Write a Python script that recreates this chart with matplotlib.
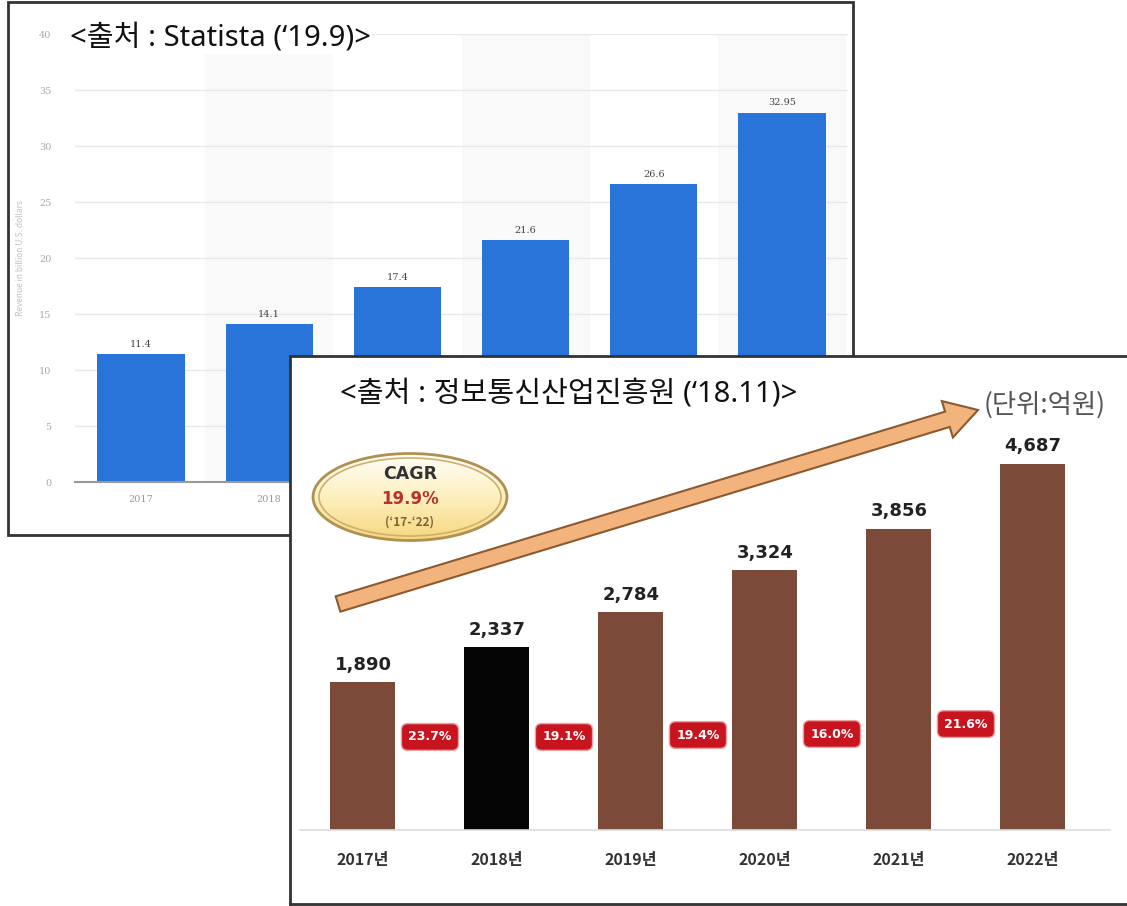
import numpy as np
import matplotlib
matplotlib.use("Agg")
import matplotlib.pyplot as plt
from matplotlib.patches import Rectangle, Ellipse, FancyArrow
from matplotlib.colors import LinearSegmentedColormap

############ data ##############
years1 = ["2017", "2018", "2019", "2020", "2021", "2022"]
revenue = [11.4, 14.1, 17.4, 21.6, 26.6, 32.95]
revenue_labels = ["11.4", "14.1", "17.4", "21.6", "26.6", "32.95"]
y1_ticks = [0, 5, 10, 15, 20, 25, 30, 35, 40]

years2 = ["2017년", "2018년", "2019년", "2020년", "2021년", "2022년"]
market = [1890, 2337, 2784, 3324, 3856, 4687]
growth = ["23.7%", "19.1%", "19.4%", "16.0%", "21.6%"]
cagr = "19.9%"

title1 = "<출처 : Statista (\u201819.9)>"
title2 = "<출처 : 정보통신산업진흥원 (\u201818.11)>"
unit = "(단위:억원)"

plt.rcParams["font.family"] = ["Noto Sans CJK KR", "DejaVu Sans"]
title_fonts = ["Noto Sans", "Noto Sans CJK KR"]

W, H = 1127, 906
fig = plt.figure(figsize=(W / 100, H / 100), dpi=100)


def px_axes(l, t, r, b, z):
    return fig.add_axes([l / W, 1 - b / H, (r - l) / W, (b - t) / H], zorder=z)


def overlay(z):
    ax = px_axes(0, 0, W, H, z)
    ax.set_xlim(0, W)
    ax.set_ylim(H, 0)
    ax.axis("off")
    return ax


############ Statista chart ##############
ax1 = px_axes(75, 34, 848, 482, 1)
x1 = np.arange(len(years1))
for i in x1[1::2]:
    ax1.axvspan(i - 0.5, i + 0.5, color="#f9f9f9", zorder=0, lw=0)
ax1.bar(x1, revenue, width=0.68, color="#2874d8", zorder=2)
for i, (v, s) in enumerate(zip(revenue, revenue_labels)):
    ax1.annotate(s, (i, v), xytext=(0, 4), textcoords="offset points",
                 ha="center", va="bottom", fontsize=7, color="#444444",
                 family="DejaVu Serif")
ax1.set_xlim(-0.515, 5.515)
ax1.set_ylim(0, 40)
ax1.set_yticks(y1_ticks)
ax1.set_xticks(x1, years1)
ax1.yaxis.grid(True, color="#e8e8e8", lw=1)
ax1.set_axisbelow(True)
for s in ["top", "right", "left"]:
    ax1.spines[s].set_visible(False)
ax1.spines["bottom"].set_color("#9a9a9a")
ax1.spines["bottom"].set_linewidth(1.5)
ax1.tick_params(axis="y", length=0, pad=17, labelsize=7, labelcolor="#aaaaaa")
ax1.tick_params(axis="x", length=0, pad=9, labelsize=7, labelcolor="#999999")
for t in ax1.get_xticklabels() + ax1.get_yticklabels():
    t.set_family("DejaVu Serif")
# 2019~2022 라벨은 아래 차트에 가려짐
for t in ax1.get_xticklabels()[2:]:
    t.set_visible(False)
ax1.set_ylabel("Revenue in billion U.S. dollars", fontsize=6, color="#c0c0c0")
ax1.yaxis.set_label_coords(-0.065, 0.5)

top1 = overlay(2)
top1.add_patch(Rectangle((8, 2), 845, 533, fill=False, ec="#333333", lw=2))
top1.text(70, 38, title1, ha="left", va="center", fontsize=21, color="#111111",
          family=title_fonts, bbox=dict(fc="white", ec="none", pad=1))

############ 정보통신산업진흥원 chart ##############
bg2 = px_axes(290, 356, 1140, 904, 3)
bg2.set_facecolor("white")
bg2.set_xticks([])
bg2.set_yticks([])
for s in bg2.spines.values():
    s.set_color("#333333")
    s.set_linewidth(2)

ax2 = px_axes(300, 361, 1110, 830, 4)
ax2.set_facecolor("none")
x2 = np.arange(len(years2))
colors = ["#050505" if y == "2018년" else "#7b4a39" for y in years2]
ax2.bar(x2, market, width=0.485, color=colors)
for i, v in enumerate(market):
    ax2.annotate(f"{v:,}", (i, v), xytext=(0, 6), textcoords="offset points",
                 ha="center", va="bottom", fontsize=13, fontweight="bold",
                 color="#222222", family="DejaVu Sans")
badge_y = [1190, 1190, 1215, 1228, 1355]
for i, g in enumerate(growth):
    ax2.text(i + 0.5, badge_y[i], g, ha="center", va="center", fontsize=9,
             fontweight="bold", color="white", family="DejaVu Sans",
             bbox=dict(boxstyle="round,pad=0.55,rounding_size=0.5",
                       fc="#c8141e", ec="#e8a0a0", lw=1))
ax2.set_xlim(-0.47, 5.575)
ax2.set_ylim(0, 6000)
ax2.set_xticks(x2, years2)
ax2.set_yticks([])
for s in ["top", "right", "left"]:
    ax2.spines[s].set_visible(False)
ax2.spines["bottom"].set_color("#dddddd")
ax2.spines["bottom"].set_linewidth(1.2)
ax2.tick_params(axis="x", length=0, pad=16, labelsize=11.5, labelcolor="#333333")
for t in ax2.get_xticklabels():
    t.set_fontweight("bold")

top2 = overlay(5)
# 성장 화살표
top2.add_patch(FancyArrow(338, 604, 640, -194, width=16, head_width=38,
                          head_length=32, length_includes_head=True,
                          fc="#f2b47c", ec="#8c5a30", lw=1.5))
# CAGR 타원
outer = Ellipse((410, 497), 194, 87, fc="none", ec="#b09050", lw=2)
inner = Ellipse((410, 497), 182, 78, fc="none", ec="#cdb070", lw=1.2)
top2.add_patch(outer)
top2.add_patch(inner)
cm = LinearSegmentedColormap.from_list("cagr", ["#fffef8", "#fdf0c0", "#f6d77e"])
grad = np.linspace(0, 1, 100)[:, None]
im = top2.imshow(grad, extent=(313, 507, 540, 453), cmap=cm, aspect="auto", zorder=0.5)
im.set_clip_path(outer)
top2.set_xlim(0, W)
top2.set_ylim(H, 0)
top2.text(410, 474, "CAGR", ha="center", va="center", fontsize=12.5,
          fontweight="bold", color="#333333", family="DejaVu Sans")
top2.text(410, 499, cagr, ha="center", va="center", fontsize=12,
          fontweight="bold", color="#b8312f", family="DejaVu Sans")
top2.text(410, 522, "(\u201817-\u201822)", ha="center", va="center", fontsize=8.5,
          fontweight="bold", color="#7d6236")

top2.text(340, 395, title2, ha="left", va="center", fontsize=21, color="#111111",
          family=title_fonts)
top2.text(1045, 405, unit, ha="center", va="center", fontsize=19, color="#555555")

fig.savefig("out.png", dpi=100)
